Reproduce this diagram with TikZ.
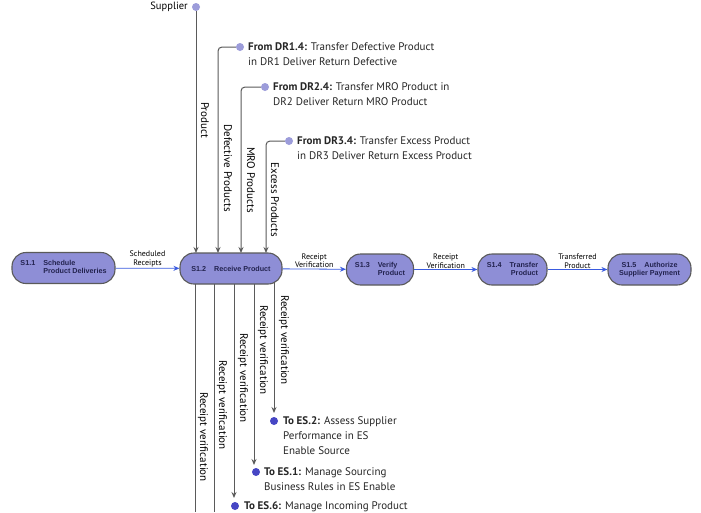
\documentclass[tikz,border=0pt]{standalone}
\usepackage{fontspec}
\setmainfont{PT Sans}
\newfontfamily\nodefont{Liberation Sans}
\usetikzlibrary{arrows.meta}
\definecolor{procfill}{HTML}{8E8ED6}
\definecolor{proctext}{HTML}{23234F}
\definecolor{flowblue}{HTML}{3A5BE0}
\definecolor{linegray}{HTML}{5A5A5A}
\definecolor{dotlight}{HTML}{9C9CDA}
\definecolor{dotdark}{HTML}{4646C4}
\begin{document}
\begin{tikzpicture}[x=1pt,y=-1pt,
  proc/.style={draw=linegray, line width=1.1pt, fill=procfill, rounded corners=14pt,
     minimum height=31pt, inner sep=2pt, text=proctext,
     font=\nodefont\fontsize{7.2}{8.2}\selectfont\bfseries},
  flow/.style={draw=flowblue, line width=0.8pt, -{Stealth[length=6pt,width=5pt]}},
  feed/.style={draw=linegray, line width=1pt, rounded corners=4pt, -{Stealth[length=6pt,width=5pt]}},
  flowlab/.style={font=\fontsize{8}{8.5}\selectfont, align=center, anchor=south, inner sep=1pt},
  vlab/.style={font=\fontsize{11}{12}\selectfont, rotate=-90, inner sep=0pt},
  dotin/.style={circle, fill=dotlight, inner sep=0pt, minimum size=8pt},
  dotout/.style={circle, fill=dotdark, inner sep=0pt, minimum size=8pt},
  txt/.style={font=\fontsize{11}{15}\selectfont, align=left, anchor=north west, inner sep=0pt, text=black!85}
]
\useasboundingbox (0,0) rectangle (701,512);
\fill[white] (0,0) rectangle (701,512);

% process nodes
\node[proc, minimum width=103pt] (s11) at (63.5,268)
  {\begin{tabular}{@{}l@{\hspace{8pt}}l@{}}S1.1 & Schedule\\ & Product Deliveries\end{tabular}};
\node[proc, minimum width=102pt] (s12) at (231,268.5) {S1.2\hspace{8pt}Receive Product};
\node[proc, minimum width=67pt] (s13) at (380,269.5)
  {\begin{tabular}{@{}l@{\hspace{8pt}}l@{}}S1.3 & Verify\\ & Product\end{tabular}};
\node[proc, minimum width=69pt] (s14) at (512.5,269.5)
  {\begin{tabular}{@{}l@{\hspace{8pt}}r@{}}S1.4 & Transfer\\ & Product\end{tabular}};
\node[proc, minimum width=83pt] (s15) at (649.5,269.5)
  {\begin{tabular}{@{}c@{}}S1.5\hspace{8pt}Authorize\\ Supplier Payment\end{tabular}};

% horizontal flows
\draw[flow] (s11) -- node[flowlab] {Scheduled\\Receipts} (s12);
\draw[flow] (s12) -- node[flowlab] {Receipt\\Verification} (s13);
\draw[flow] (s13) -- node[flowlab] {Receipt\\Verification} (s14);
\draw[flow] (s14) -- node[flowlab] {Transferred\\Product} (s15);

% inputs from above
\node[dotin] (sup) at (196,7) {};
\node[font=\fontsize{10.5}{11}\selectfont, anchor=east, inner sep=0pt] (suplab) at (188,7) {Supplier};
\node[dotin] (dr1) at (240,47) {};
\node[dotin] (dr2) at (265,87) {};
\node[dotin] (dr3) at (289,141) {};
\node[txt] (dr1t) at (248,42.5) {\textbf{From DR1.4:} Transfer Defective Product\\in DR1 Deliver Return Defective};
\node[txt] (dr2t) at (273,82.5) {\textbf{From DR2.4:} Transfer MRO Product in\\DR2 Deliver Return MRO Product};
\node[txt] (dr3t) at (297,136.5) {\textbf{From DR3.4:} Transfer Excess Product\\in DR3 Deliver Return Excess Product};

\coordinate (in1) at (196,253);
\coordinate (in2) at (218,253);
\coordinate (in3) at (241,253);
\coordinate (in4) at (266,253);
\draw[feed] (sup) -- (in1);
\draw[feed] (dr1) -| (in2);
\draw[feed] (dr2) -| (in3);
\draw[feed] (dr3) -| (in4);
\node[vlab] (l1) at (205,120) {Product};
\node[vlab] (l2) at (228,168) {Defective Products};
\node[vlab] (l3) at (251,180) {MRO Products};
\node[vlab] (l4) at (275,200) {Excess Products};

% outputs below
\coordinate (o1) at (195,284);
\coordinate (o2) at (214,284);
\coordinate (o3) at (234,284);
\coordinate (o4) at (254,284);
\coordinate (o5) at (274,282);
\coordinate (e1) at (195,512);
\coordinate (e2) at (214,512);
\coordinate (a3) at (234,498);
\coordinate (a4) at (254,465);
\coordinate (a5) at (274,413);
\node[dotout] (es6) at (235,506) {};
\node[dotout] (es1) at (256,472) {};
\node[dotout] (es2) at (274,421) {};
\draw[draw=linegray, line width=1pt] (o1) -- (e1);
\draw[draw=linegray, line width=1pt] (o2) -- (e2);
\draw[feed] (o3) -- (a3);
\draw[feed] (o4) -- (a4);
\draw[feed] (o5) -- (a5);
\node[vlab] (r1) at (203,437) {Receipt verification};
\node[vlab] (r2) at (222,405) {Receipt verification};
\node[vlab] (r3) at (243,378) {Receipt verification};
\node[vlab] (r4) at (263,350) {Receipt verification};
\node[vlab] (r5) at (284,340) {Receipt verification};
\node[txt] (es2t) at (283,416.5) {\textbf{To ES.2:} Assess Supplier\\Performance in ES\\Enable Source};
\node[txt] (es1t) at (264,467.5) {\textbf{To ES.1:} Manage Sourcing\\Business Rules in ES Enable};
\node[txt] (es6t) at (244,501) {\textbf{To ES.6:} Manage Incoming Product};
\end{tikzpicture}
\end{document}
